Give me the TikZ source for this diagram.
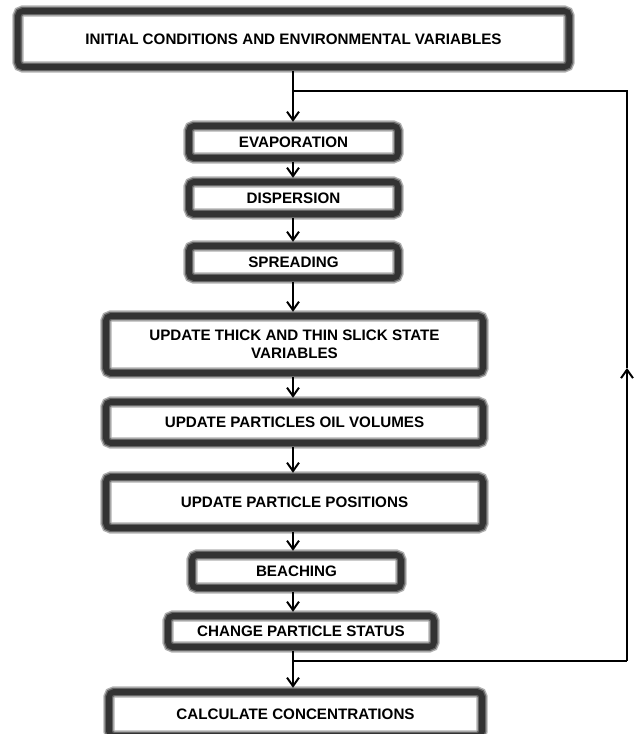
\documentclass[tikz,border=0pt]{standalone}
\usepackage{fontspec}
\setmainfont{Liberation Sans}
\usetikzlibrary{arrows.meta}

\begin{document}
\begin{tikzpicture}[
        x=0.025cm, y=-0.025cm,
        process/.style={draw=black!80, line width=4pt, rounded corners=3.5pt,
            preaction={fill=white},
            preaction={draw=black!30, line width=8pt},
            preaction={draw=black!60, line width=6pt},
            align=center, inner sep=0pt, outer sep=3pt,
            font=\bfseries\fontsize{10.8}{12.6}\selectfont},
        arrow/.style={-{Straight Barb[length=6pt, width=8.5pt]}, line width=1.4pt},
        loopline/.style={line width=1.4pt}
    ]
    \useasboundingbox (0,0) rectangle (635,734);

    % Initial box
    \node[process, minimum width=13.775cm, minimum height=1.4cm] (init) at (293.5,39) {INITIAL CONDITIONS AND ENVIRONMENTAL VARIABLES};

    % Weathering processes
    \node[process, minimum width=5.225cm, minimum height=0.8cm] (evap) at (293.5,142) {EVAPORATION};
    \node[process, minimum width=5.225cm, minimum height=0.8cm] (disp) at (293.5,198) {DISPERSION};
    \node[process, minimum width=5.225cm, minimum height=0.8cm] (spread) at (293.5,262) {SPREADING};

    % Update steps
    \node[process, minimum width=9.425cm, minimum height=1.425cm] (slick) at (294.5,344.5) {UPDATE THICK AND THIN SLICK STATE\\VARIABLES};
    \node[process, minimum width=9.425cm, minimum height=1.025cm] (volumes) at (294.5,422.5) {UPDATE PARTICLES OIL VOLUMES};
    \node[process, minimum width=9.425cm, minimum height=1.275cm] (positions) at (294.5,502.5) {UPDATE PARTICLE POSITIONS};
    \node[process, minimum width=5.225cm, minimum height=0.825cm] (beach) at (296.5,571.5) {BEACHING};
    \node[process, minimum width=6.65cm, minimum height=0.775cm] (status) at (301,631.5) {CHANGE PARTICLE STATUS};

    % Final box
    \node[process, minimum width=9.325cm, minimum height=1.1cm] (conc) at (295.5,714) {CALCULATE CONCENTRATIONS};

    % Corners of the time loop
    \coordinate (merge) at (293,91);
    \coordinate (split) at (293,661);
    \coordinate (rtop) at (627,91);
    \coordinate (rmid) at (627,368);
    \coordinate (rbot) at (627,661);

    % Main arrows
    \draw[arrow] (init.south -| merge) -- (evap.north -| merge);
    \draw[arrow] (evap.south -| merge) -- (disp.north -| merge);
    \draw[arrow] (disp.south -| merge) -- (spread.north -| merge);
    \draw[arrow] (spread.south -| merge) -- (slick.north -| merge);
    \draw[arrow] (slick.south -| merge) -- (volumes.north -| merge);
    \draw[arrow] (volumes.south -| merge) -- (positions.north -| merge);
    \draw[arrow] (positions.south -| merge) -- (beach.north -| merge);
    \draw[arrow] (beach.south -| merge) -- (status.north -| merge);
    \draw[arrow] (status.south -| merge) -- (conc.north -| merge);

    % Loop back to the top
    \draw[loopline] (split) -- (rbot);
    \draw[arrow] (rbot) -- (rmid);
    \draw[loopline] (rmid) -- (rtop) -- (merge);

\end{tikzpicture}
\end{document}
